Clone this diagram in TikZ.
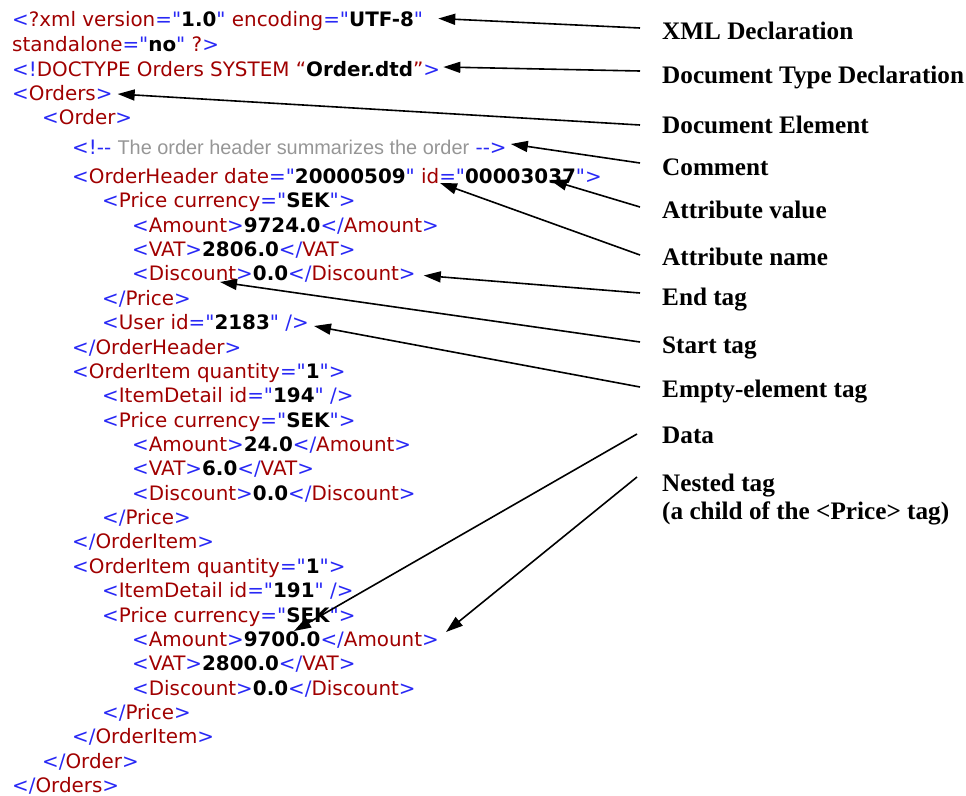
\documentclass[tikz,border=0pt]{standalone}
\usepackage{fontspec}
\usepackage{xcolor}
\usepackage{tikz}
\usetikzlibrary{arrows.meta,positioning,calc}

\newfontfamily\xmlfont[Ligatures=TeXOff]{DejaVu Sans}
\newfontfamily\comfont{Liberation Sans}
\newfontfamily\labfont{Liberation Serif}

\definecolor{xmlblue}{RGB}{40,40,245}
\definecolor{xmlred}{RGB}{160,0,0}
\definecolor{xmlgray}{RGB}{150,150,150}

\newcommand{\xtag}[1]{\textcolor{xmlblue}{#1}}
\newcommand{\xname}[1]{\textcolor{xmlred}{#1}}
\newcommand{\xval}[1]{\textcolor{black}{\bfseries #1}}
\newcommand{\xcom}[1]{\textcolor{xmlgray}{\comfont #1}}

\tikzset{
    code/.style={anchor=base west, inner sep=0pt, font=\xmlfont\fontsize{19.9}{22}\selectfont},
    lab/.style={anchor=base west, inner sep=0pt, font=\labfont\bfseries\fontsize{25.2}{28}\selectfont},
    arr/.style={-{Triangle[length=17pt,width=11pt]}, line width=1.6pt}
}

\begin{document}
\begin{tikzpicture}[x=1pt,y=-1pt]
    \useasboundingbox (0,0) rectangle (966,795);

    % XML listing
    \node[code] (l1) at (12,27) {\xtag{<}\xname{?xml version}\xtag{="}\xval{1.0}\xtag{"} \xname{encoding}\xtag{="}\xval{UTF-8}\xtag{"}};
    \node[code] (l2) at (12,51.5) {\xname{standalone}\xtag{="}\xval{no}\xtag{"} \xname{?}\xtag{>}};
    \node[code] (l3) at (12,76) {\xtag{<!}\xname{DOCTYPE Orders SYSTEM “}\xval{Order.dtd}\xname{”}\xtag{>}};
    \node[code] (l4) at (12,100) {\xtag{<}\xname{Orders}\xtag{>}};
    \node[code] (l5) at (42,124) {\xtag{<}\xname{Order}\xtag{>}};
    \node[code] (l6) at (72,154) {\xtag{<!--} \xcom{The order header summarizes the order} \xtag{-->}};
    \node[code] (l7) at (72,183) {\xtag{<}\xname{OrderHeader date}\xtag{="}\xval{20000509}\xtag{"} \xname{id}\xtag{="}\xval{00003037}\xtag{">}};
    \node[code] (l8) at (102,207.5) {\xtag{<}\xname{Price currency}\xtag{="}\xval{SEK}\xtag{">}};
    \node[code] (l9) at (132,232) {\xtag{<}\xname{Amount}\xtag{>}\xval{9724.0}\xtag{</}\xname{Amount}\xtag{>}};
    \node[code] (l10) at (132,256) {\xtag{<}\xname{VAT}\xtag{>}\xval{2806.0}\xtag{</}\xname{VAT}\xtag{>}};
    \node[code] (l11) at (132,280.5) {\xtag{<}\xname{Discount}\xtag{>}\xval{0.0}\xtag{</}\xname{Discount}\xtag{>}};
    \node[code] (l12) at (102,305) {\xtag{</}\xname{Price}\xtag{>}};
    \node[code] (l13) at (102,329) {\xtag{<}\xname{User id}\xtag{="}\xval{2183}\xtag{" />}};
    \node[code] (l14) at (72,354) {\xtag{</}\xname{OrderHeader}\xtag{>}};
    \node[code] (l15) at (72,378) {\xtag{<}\xname{OrderItem quantity}\xtag{="}\xval{1}\xtag{">}};
    \node[code] (l16) at (102,402.5) {\xtag{<}\xname{ItemDetail id}\xtag{="}\xval{194}\xtag{" />}};
    \node[code] (l17) at (102,427) {\xtag{<}\xname{Price currency}\xtag{="}\xval{SEK}\xtag{">}};
    \node[code] (l18) at (132,451) {\xtag{<}\xname{Amount}\xtag{>}\xval{24.0}\xtag{</}\xname{Amount}\xtag{>}};
    \node[code] (l19) at (132,475.5) {\xtag{<}\xname{VAT}\xtag{>}\xval{6.0}\xtag{</}\xname{VAT}\xtag{>}};
    \node[code] (l20) at (132,500) {\xtag{<}\xname{Discount}\xtag{>}\xval{0.0}\xtag{</}\xname{Discount}\xtag{>}};
    \node[code] (l21) at (102,524) {\xtag{</}\xname{Price}\xtag{>}};
    \node[code] (l22) at (72,548.5) {\xtag{</}\xname{OrderItem}\xtag{>}};
    \node[code] (l23) at (72,573) {\xtag{<}\xname{OrderItem quantity}\xtag{="}\xval{1}\xtag{">}};
    \node[code] (l24) at (102,597.5) {\xtag{<}\xname{ItemDetail id}\xtag{="}\xval{191}\xtag{" />}};
    \node[code] (l25) at (102,622) {\xtag{<}\xname{Price currency}\xtag{="}\xval{SEK}\xtag{">}};
    \node[code] (l26) at (132,646) {\xtag{<}\xname{Amount}\xtag{>}\xval{9700.0}\xtag{</}\xname{Amount}\xtag{>}};
    \node[code] (l27) at (132,670.5) {\xtag{<}\xname{VAT}\xtag{>}\xval{2800.0}\xtag{</}\xname{VAT}\xtag{>}};
    \node[code] (l28) at (132,695) {\xtag{<}\xname{Discount}\xtag{>}\xval{0.0}\xtag{</}\xname{Discount}\xtag{>}};
    \node[code] (l29) at (102,719) {\xtag{</}\xname{Price}\xtag{>}};
    \node[code] (l30) at (72,743.5) {\xtag{</}\xname{OrderItem}\xtag{>}};
    \node[code] (l31) at (42,768) {\xtag{</}\xname{Order}\xtag{>}};
    \node[code] (l32) at (12,792) {\xtag{</}\xname{Orders}\xtag{>}};

    % Labels
    \node[lab] (lxml) at (662,39) {XML Declaration};
    \node[lab] (ldoct) at (662,83) {Document Type Declaration};
    \node[lab] (ldocel) at (662,133) {Document Element};
    \node[lab] (lcom) at (662,175) {Comment};
    \node[lab] (lattval) at (662,218) {Attribute value};
    \node[lab] (lattnm) at (662,265) {Attribute name};
    \node[lab] (lend) at (662,305) {End tag};
    \node[lab] (lstart) at (662,353) {Start tag};
    \node[lab] (lempty) at (662,397) {Empty-element tag};
    \node[lab] (ldata) at (662,443) {Data};
    \node[lab] (lnest) at (662,491) {Nested tag};
    \node[lab] (lnestb) at (662,519) {(a child of the <Price> tag)};

    % Arrow targets
    \coordinate (txml) at ([shift={(15pt,8.5pt)}]l1.base east);
    \coordinate (tdoct) at ([shift={(3pt,9pt)}]l3.base east);
    \coordinate (tdocel) at ([shift={(5pt,6pt)}]l4.base east);
    \coordinate (tcom) at ([shift={(4pt,10pt)}]l6.base east);
    \coordinate (tattval) at (550,180);
    \coordinate (tattnm) at (440,183);
    \coordinate (tend) at ([shift={(8pt,5pt)}]l11.base east);
    \coordinate (tstart) at (220,282);
    \coordinate (tempty) at ([shift={(5pt,3pt)}]l13.base east);
    \coordinate (tdata) at (294,631);
    \coordinate (tnest) at ([shift={(7pt,14pt)}]l26.base east);

    % Arrows
    \draw[arr] ([shift={(-22pt,11pt)}]lxml.base west) -- (txml);
    \draw[arr] ([shift={(-22pt,12pt)}]ldoct.base west) -- (tdoct);
    \draw[arr] ([shift={(-22pt,8pt)}]ldocel.base west) -- (tdocel);
    \draw[arr] ([shift={(-22pt,12pt)}]lcom.base west) -- (tcom);
    \draw[arr] ([shift={(-22pt,11pt)}]lattval.base west) -- (tattval);
    \draw[arr] ([shift={(-22pt,10pt)}]lattnm.base west) -- (tattnm);
    \draw[arr] ([shift={(-22pt,12pt)}]lend.base west) -- (tend);
    \draw[arr] ([shift={(-22pt,11pt)}]lstart.base west) -- (tstart);
    \draw[arr] ([shift={(-22pt,10pt)}]lempty.base west) -- (tempty);
    \draw[arr] ([shift={(-25pt,9pt)}]ldata.base west) -- (tdata);
    \draw[arr] ([shift={(-25pt,14pt)}]lnest.base west) -- (tnest);
\end{tikzpicture}
\end{document}
